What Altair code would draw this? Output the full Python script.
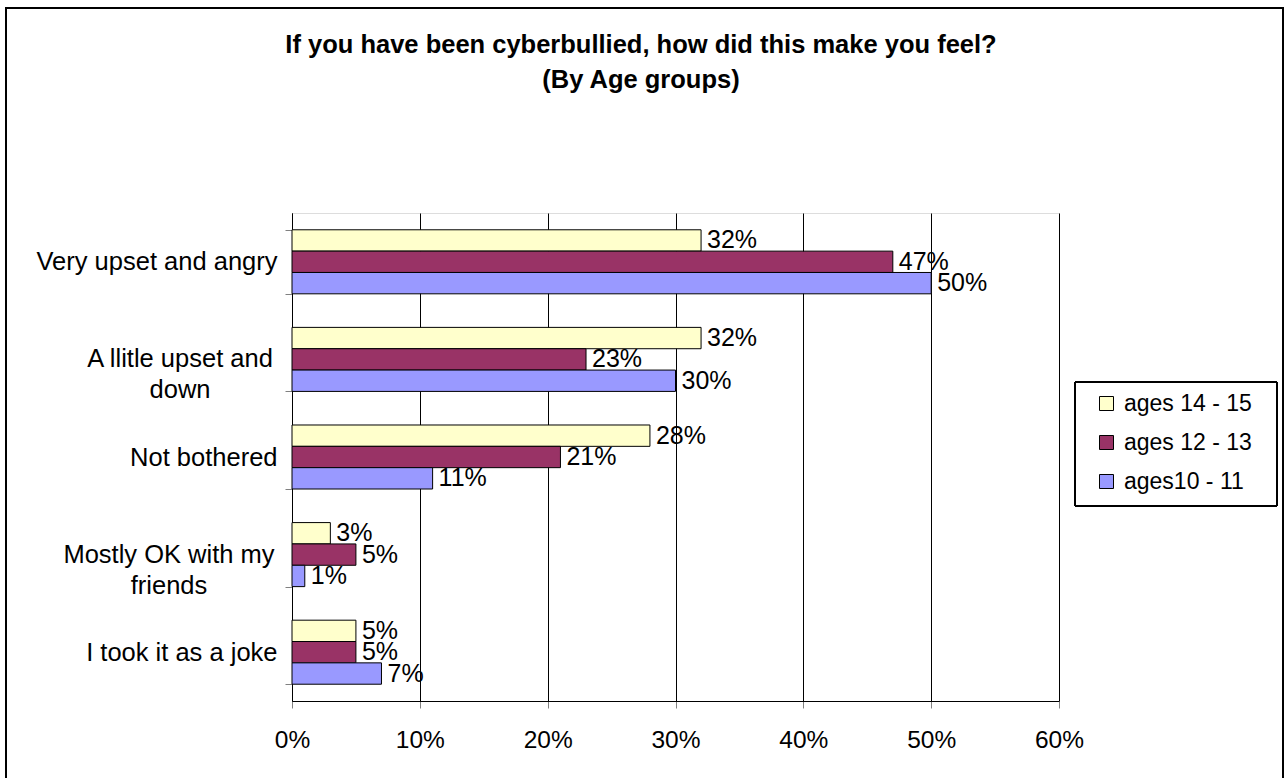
import altair as alt
import pandas as pd

categories = [
    "Very upset and angry",
    "A llitle upset and\ndown",
    "Not bothered",
    "Mostly OK with my\nfriends",
    "I took it as a joke",
]
groups = ["ages 14 - 15", "ages 12 - 13", "ages10 - 11"]
ages_14_15 = [32, 32, 28, 3, 5]
ages_12_13 = [47, 23, 21, 5, 5]
ages_10_11 = [50, 30, 11, 1, 7]
colors = ["#FFFFCC", "#993366", "#9999FF"]
x_ticks = [0, 10, 20, 30, 40, 50, 60]
title_lines = [
    "If you have been cyberbullied, how did this make you feel?",
    "(By Age groups)",
]

rows = []
for g, vals in zip(groups, [ages_14_15, ages_12_13, ages_10_11]):
    for c, v in zip(categories, vals):
        rows.append({"cat": c, "group": g, "value": v, "label": f"{v}%"})
df = pd.DataFrame(rows)
cat_df = pd.DataFrame({"cat": categories})

FONT = "Liberation Sans"
LABEL_SIZE = 25.5

y_enc = alt.Y(
    "cat:N",
    sort=categories,
    title=None,
    scale=alt.Scale(paddingInner=0.344, paddingOuter=0.172),
    axis=alt.Axis(
        # single-line labels come from the axis; wrapped ones are drawn
        # as centred text blocks below
        labelExpr="isValid(datum.value) && indexof(datum.value, '\\n') < 0 ? datum.value : ''",
        labelFontSize=LABEL_SIZE,
        labelFont=FONT,
        labelColor="black",
        labelPadding=8,
        tickBand="extent",
        tickSize=7,
        tickColor="#808080",
        domainColor="black",
        grid=False,
        labelLimit=400,
    ),
)
x_enc = alt.X(
    "value:Q",
    title=None,
    scale=alt.Scale(domain=[0, 60], nice=False),
    axis=alt.Axis(
        values=x_ticks,
        labelExpr="datum.value + '%'",
        labelFontSize=24.5,
        labelFont=FONT,
        labelColor="black",
        labelPadding=20,
        labelFlush=False,
        tickSize=7,
        tickColor="#808080",
        domainColor="black",
        grid=True,
        gridColor="black",
        gridOpacity=1,
    ),
)
yoff = alt.YOffset("group:N", sort=groups)

bars = alt.Chart(df).mark_bar(stroke="black", strokeWidth=1).encode(
    x=x_enc,
    y=y_enc,
    yOffset=yoff,
    color=alt.Color(
        "group:N",
        sort=groups,
        scale=alt.Scale(domain=groups, range=colors),
        legend=alt.Legend(
            title=None,
            orient="none",
            legendX=803,
            legendY=179,
            padding=0,
            symbolType="square",
            symbolSize=196,
            symbolStrokeColor="black",
            symbolStrokeWidth=1,
            labelFontSize=23,
            labelFont=FONT,
            labelColor="black",
            rowPadding=15,
            labelOffset=6,
        ),
    ),
)

texts = alt.Chart(df).mark_text(
    align="left", baseline="middle", dx=6, fontSize=25, font=FONT, color="black"
).encode(
    x="value:Q",
    y=alt.Y("cat:N", sort=categories),
    yOffset=yoff,
    text="label:N",
)

def wrapped_label(cat, xpos):
    return alt.Chart(cat_df).transform_filter(
        alt.datum.cat == cat
    ).mark_text(
        align="center", baseline="middle", lineBreak="\n", lineHeight=31,
        fontSize=LABEL_SIZE, font=FONT, color="black",
    ).encode(
        y=alt.Y("cat:N", sort=categories),
        x=alt.value(xpos),
        text="cat:N",
    )

wrap_a = wrapped_label(categories[1], -112)
wrap_b = wrapped_label(categories[3], -123)

legend_box = alt.Chart(df).mark_rect(
    fill=None, stroke="black", strokeWidth=1
).encode(
    x=alt.value(783), x2=alt.value(985), y=alt.value(169), y2=alt.value(293)
)

outer_box = alt.Chart(df).mark_rect(
    fill=None, stroke="black", strokeWidth=2
).encode(
    x=alt.value(-286), x2=alt.value(991), y=alt.value(-205), y2=alt.value(580)
)

title1 = alt.Chart(pd.DataFrame({"t": [title_lines[0]]})).mark_text(
    font=FONT, fontSize=25.5, fontWeight="bold", color="black",
    align="center", baseline="middle",
).encode(text="t:N", x=alt.value(349), y=alt.value(-168))
title2 = alt.Chart(pd.DataFrame({"t": [title_lines[1]]})).mark_text(
    font=FONT, fontSize=25.5, fontWeight="bold", color="black",
    align="center", baseline="middle",
).encode(text="t:N", x=alt.value(349), y=alt.value(-133))

chart = alt.layer(
    bars, texts, wrap_a, wrap_b, legend_box, outer_box, title1, title2
).properties(
    width=767,
    height=488,
    autosize=alt.AutoSizeParams(type="none"),
    padding={"left": 292, "top": 213, "right": 225, "bottom": 77},
).configure_view(stroke="#808080", strokeWidth=1).configure(background="white")

chart.save("out.html", embed_options={"renderer": "svg", "actions": False})
